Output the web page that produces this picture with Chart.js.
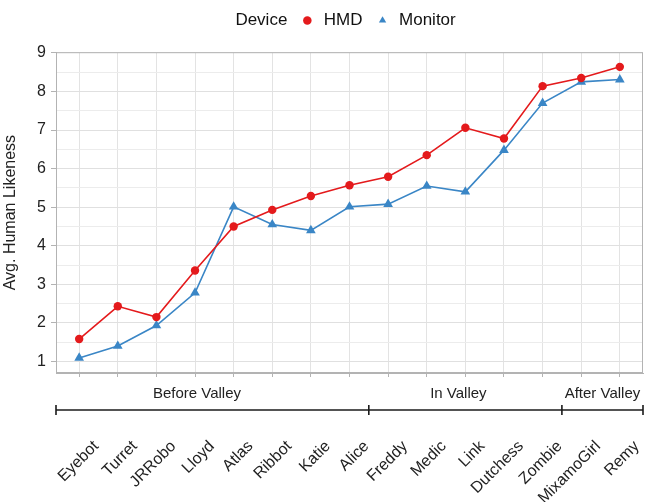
<!DOCTYPE html>
<html><head><meta charset="utf-8">
<script src="https://cdn.jsdelivr.net/npm/chart.js@4.4.1/dist/chart.umd.min.js"></script>
<style>html,body{margin:0;padding:0;background:#fff}#wrap{width:646px;height:502px}</style>
</head><body><div id="wrap"><canvas id="c" width="646" height="502"></canvas></div>
<script>
const categories = ['Eyebot','Turret','JRRobo','Lloyd','Atlas','Ribbot','Katie','Alice','Freddy','Medic','Link','Dutchess','Zombie','MixamoGirl','Remy'];
const hmdValues = [1.58,2.43,2.15,3.36,4.50,4.93,5.29,5.57,5.79,6.35,7.06,6.78,8.14,8.35,8.64];
const monitorValues = [1.09,1.40,1.93,2.78,5.01,4.55,4.40,5.01,5.08,5.55,5.40,6.48,7.70,8.25,8.31];
const yTickValues = [1,2,3,4,5,6,7,8,9];
const groupNames = ['Before Valley','In Valley','After Valley'];
const groupSizes = [8,5,2];
const legendTitle = 'Device';

const FONT = '"Liberation Sans", Arial, Helvetica, sans-serif';
const RED = '#e41a1c', BLUE = '#3a86c6';
const gridTicks = [];
yTickValues.forEach((v, i) => { gridTicks.push(v); if (i < yTickValues.length - 1) gridTicks.push(v + 0.5); });

const frame = {
  id: 'frame',
  afterDraw(chart) {
    const a = chart.chartArea, ctx = chart.ctx;
    ctx.save(); ctx.strokeStyle = '#b3b3b3'; ctx.lineWidth = 1;
    ctx.strokeRect(a.left + 0.5, a.top + 0.5, a.right - a.left - 1, a.bottom - a.top - 1);
    ctx.restore();
  }
};
const groups = {
  id: 'groups',
  afterDraw(chart, args, opts) {
    const xs = chart.scales.x, a = chart.chartArea, ctx = chart.ctx;
    const lineY = a.bottom + opts.lineOffset, textY = a.bottom + opts.textOffset;
    const bounds = [xs.left];
    let cum = 0;
    groupSizes.forEach((n, i) => { cum += n; if (i < groupSizes.length - 1) bounds.push(xs.getPixelForValue(cum - 0.5)); });
    bounds.push(xs.right);
    ctx.save();
    ctx.strokeStyle = '#1a1a1a'; ctx.lineWidth = 1.6;
    ctx.beginPath(); ctx.moveTo(bounds[0], lineY); ctx.lineTo(bounds[bounds.length - 1], lineY); ctx.stroke();
    bounds.forEach(b => { ctx.beginPath(); ctx.moveTo(b, lineY - 5); ctx.lineTo(b, lineY + 5); ctx.stroke(); });
    ctx.fillStyle = '#222'; ctx.font = '15px ' + FONT; ctx.textAlign = 'center'; ctx.textBaseline = 'middle';
    groupNames.forEach((g, i) => ctx.fillText(g, xs.getPixelForValue(opts.labelAt[i]), textY));
    ctx.restore();
  }
};

const hiddenItem = (text) => ({ text, fillStyle: 'rgba(0,0,0,0)', strokeStyle: 'rgba(0,0,0,0)', lineWidth: 0, pointStyle: 'circle', hidden: false, datasetIndex: -1, fontColor: '#111' });

new Chart(document.getElementById('c'), {
  type: 'line',
  data: {
    datasets: [
      { label: 'HMD', data: hmdValues.map((v, i) => ({x: i, y: v})), borderColor: RED, backgroundColor: RED,
        borderWidth: 1.6, pointStyle: 'circle', pointRadius: 4.2, pointBorderWidth: 0, pointBackgroundColor: RED, tension: 0 },
      { label: 'Monitor', data: monitorValues.map((v, i) => ({x: i, y: v})), borderColor: BLUE, backgroundColor: BLUE,
        borderWidth: 1.6, pointStyle: 'triangle', pointRadius: 5.6, pointBorderWidth: 0, pointBackgroundColor: BLUE, tension: 0 }
    ]
  },
  options: {
    responsive: false, animation: false, devicePixelRatio: 1,
    layout: { autoPadding: false, padding: { top: 0, right: 3, left: 0, bottom: 0 } },
    plugins: {
      tooltip: { enabled: false },
      groups: { lineOffset: 37, textOffset: 21, labelAt: [3.05, 9.82, 13.55] },
      subtitle: { display: true, text: '', font: { size: 11 }, padding: 0 },
      legend: {
        position: 'top', align: 'center', weight: 3000,
        labels: {
          usePointStyle: true, boxHeight: 6, boxWidth: 16, padding: 12, color: '#111',
          font: { size: 17, family: FONT },
          generateLabels(chart) {
            const items = Chart.defaults.plugins.legend.labels.generateLabels(chart);
            items.forEach(it => { it.lineWidth = 0; it.strokeStyle = it.fillStyle; });
            return [hiddenItem('\u00a0\u00a0\u00a0\u00a0\u00a0' + legendTitle)].concat(items);
          }
        }
      }
    },
    scales: {
      x: {
        type: 'linear', min: -0.6, max: 14.6,
        afterBuildTicks: s => { s.ticks = categories.map((_, i) => ({ value: i })); },
        ticks: { autoSkip: false, minRotation: 45, maxRotation: 45, padding: 60, labelOffset: 17,
          callback: v => categories[v], font: { size: 16, family: FONT }, color: '#222' },
        grid: { color: '#e3e3e3', tickLength: 4, tickColor: '#b3b3b3', lineWidth: 1 },
        border: { color: '#b3b3b3' },
        afterFit: s => { s.height = 129; s.paddingLeft = 0; s.paddingRight = 0; }
      },
      y: {
        min: 0.70, max: 9.02,
        afterBuildTicks: s => { s.ticks = gridTicks.map(v => ({ value: v })); },
        ticks: { autoSkip: false, padding: 5, font: { size: 16, family: FONT }, color: '#222',
          callback: v => Number.isInteger(v) ? String(v) : '' },
        grid: { color: c => (c.tick && Number.isInteger(c.tick.value)) ? '#e0e0e0' : '#ececec', tickLength: 5,
          tickColor: c => (c.tick && Number.isInteger(c.tick.value)) ? '#b3b3b3' : 'rgba(0,0,0,0)' },
        border: { color: '#b3b3b3' },
        title: { display: true, text: 'Avg. Human Likeness', font: { size: 16, family: FONT }, color: '#222', padding: { top: 1, bottom: 0 } },
        afterFit: s => { s.width = 56; s.paddingBottom = 0; }
      }
    }
  },
  plugins: [frame, groups]
});
</script></body></html>
